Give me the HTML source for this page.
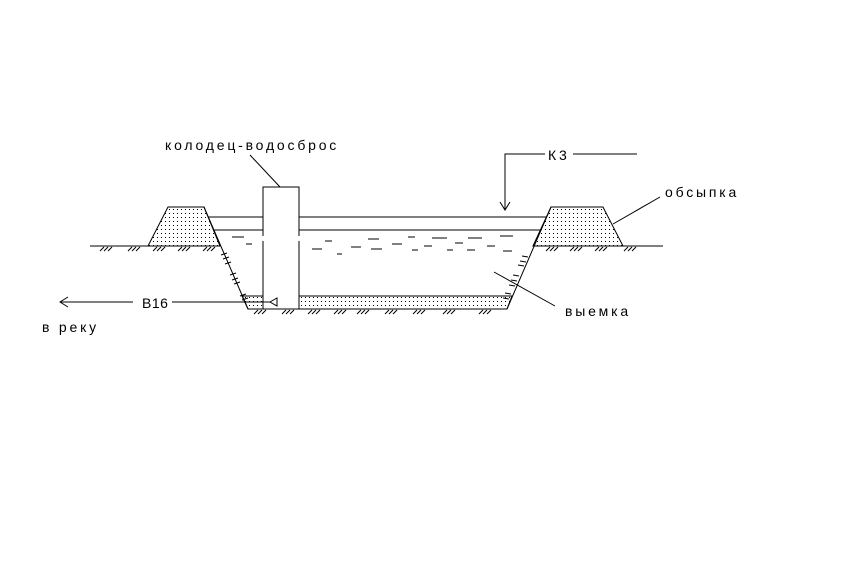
<!DOCTYPE html>
<html><head><meta charset="utf-8"><style>
html,body{margin:0;padding:0;background:#fff;}
svg{display:block}
text{font-family:"Liberation Sans","DejaVu Sans",sans-serif;font-size:14px;fill:#000;letter-spacing:2.8px}
</style></head><body>
<svg width="856" height="584" viewBox="0 0 856 584" xmlns="http://www.w3.org/2000/svg">
<defs>
<pattern id="dots" width="4" height="4" patternUnits="userSpaceOnUse"><rect x="1" y="1" width="1" height="1" fill="#000"/></pattern>
</defs>
<g stroke="#000" stroke-width="1" fill="none">
<polygon points="148,246 168,207 204,207 220,246" fill="url(#dots)"/>
<polygon points="533,246 551,207 603,207 623,246" fill="url(#dots)"/>
<line x1="90" y1="246" x2="221" y2="246"/>
<line x1="533" y1="246" x2="663" y2="246"/>
<line x1="204" y1="207" x2="248" y2="309"/>
<line x1="551" y1="207" x2="507" y2="309"/>
<line x1="248" y1="309" x2="507" y2="309"/>
<polygon points="242,296 512,296 507,309 248,309" fill="url(#dots)"/>
<line x1="208" y1="217" x2="546" y2="217"/>
<line x1="213" y1="230" x2="541" y2="230"/>
<rect x="263" y="187" width="36" height="122" fill="#fff"/>
<line x1="263" y1="236" x2="263" y2="241" stroke="#fff" stroke-width="2"/>
<line x1="299" y1="236" x2="299" y2="241" stroke="#fff" stroke-width="2"/>
<path d="M232 237h12M246 244h6M325 241h7M312 249h10M337 254h5M351 247h10M368 239h11M371 249h11M392 244h10M408 237h7M412 250h6M424 246h8M432 238h15M447 250h6M455 243h8M468 238h14M467 250h8M487 246h8M500 236h13M503 251h9"/>
<line x1="60" y1="302" x2="133" y2="302"/>
<path d="M68 297L60 302L68 307"/>
<line x1="172" y1="302" x2="270" y2="302"/>
<path d="M270 302L277 298L277 306Z"/>
<line x1="250" y1="155" x2="280" y2="187"/>
<path d="M545 154H505V210M500 202L505 210L510 202"/>
<line x1="573" y1="154" x2="637" y2="154"/>
<line x1="660" y1="197" x2="613" y2="224"/>
<line x1="494" y1="272" x2="555" y2="306"/>
<path d="M100 251l4-4M104 251l4-4M108 251l4-4M128 251l4-4M132 251l4-4M136 251l4-4M153 251l4-4M157 251l4-4M161 251l4-4M178 251l4-4M182 251l4-4M186 251l4-4M203 251l4-4M207 251l4-4M211 251l4-4"/>
<path d="M546 251l4-4M550 251l4-4M554 251l4-4M570 251l4-4M574 251l4-4M578 251l4-4M595 251l4-4M599 251l4-4M603 251l4-4M624 251l4-4M628 251l4-4M632 251l4-4"/>
<path d="M254 314l4-4M258 314l4-4M262 314l4-4M282 314l4-4M286 314l4-4M290 314l4-4M308 314l4-4M312 314l4-4M316 314l4-4M334 314l4-4M338 314l4-4M342 314l4-4M357 314l4-4M361 314l4-4M365 314l4-4M385 314l4-4M389 314l4-4M393 314l4-4M413 314l4-4M417 314l4-4M421 314l4-4M443 314l4-4M447 314l4-4M451 314l4-4M479 314l4-4M483 314l4-4M487 314l4-4"/>
<path d="M221 255l6-2M223 259l6-2M225 264l6-2M230 275l6-2M232 280l6-2M234 284l6-2M240 296l6-2M242 300l6-2"/>
<path d="M528 257l-6-1M526 262l-6-1M524 266l-6-1M519 276l-6-1M517 281l-6-1M515 286l-6-1M511 294l-6-1M509 299l-6-1"/>
</g>
<text x="165" y="150">колодец-водосброс</text>
<text x="548" y="160">К3</text>
<text x="665" y="197">обсыпка</text>
<text x="142" y="308" style="letter-spacing:0.5px">В16</text>
<text x="565" y="316">выемка</text>
<text x="42" y="332">в  реку</text>
</svg>
</body></html>
